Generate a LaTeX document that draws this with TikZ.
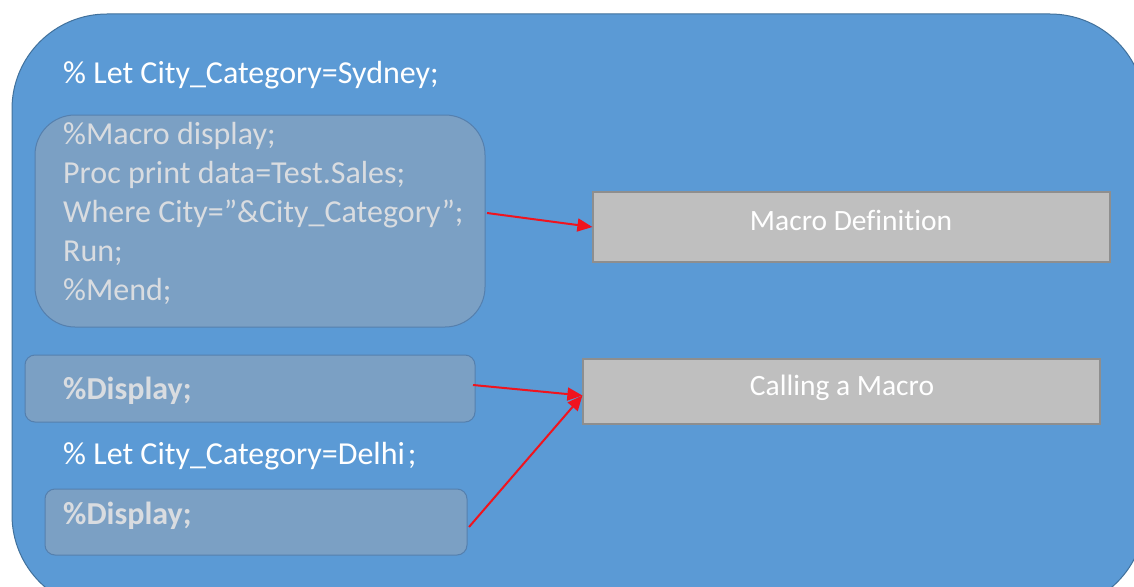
\documentclass[tikz,border=0pt]{standalone}
\usepackage{fontspec}
\setmainfont[Ligatures=CommonOff]{Carlito}
\usetikzlibrary{arrows.meta}
\definecolor{bgblue}{HTML}{5B9AD5}
\definecolor{bgedge}{HTML}{41719C}
\definecolor{codefill}{HTML}{7BA0C4}
\definecolor{codeedge}{HTML}{5580AE}
\definecolor{codetext}{HTML}{D9DCE0}
\definecolor{grayfill}{HTML}{BFBFBF}
\definecolor{grayedge}{HTML}{8E8E8E}
\definecolor{arrowred}{HTML}{F0141E}
\tikzset{
  codebox/.style={draw=codeedge, fill=codefill, line width=1pt},
  graybox/.style={draw=grayedge, fill=grayfill, line width=1.2pt},
  graytxt/.style={text=white, font=\fontsize{29.5}{34}\selectfont},
  redarrow/.style={draw=arrowred, line width=2pt, -{Triangle[length=15pt,width=13pt]}},
  codetxt/.style={text=codetext, font=\fontsize{32}{39}\selectfont, anchor=west, inner sep=0pt, align=left},
  boldtxt/.style={codetxt, font=\bfseries\fontsize{32}{39}\selectfont},
  whitetxt/.style={text=white, font=\fontsize{32}{39}\selectfont, anchor=west, inner sep=0pt}
}
\begin{document}
\begin{tikzpicture}[x=1pt,y=-1pt]
\useasboundingbox (0,0) rectangle (1134,586);
\begin{scope}
\clip (0,0) rectangle (1134,586);
\draw[fill=bgblue, draw=bgedge, line width=1pt, rounded corners=95pt] (12,14) rectangle (1145,610);
\end{scope}
% code boxes
\draw[codebox, rounded corners=40pt] (35,115) rectangle (485,327);
\coordinate (c1e) at (487,213);
\node[codetxt] (code) at (63,213) {%
\%Macro display;\\
Proc print data=Test.Sales;\\
Where City=”\&City\_Category”;\\
Run;\\
\%Mend;};
\node[whitetxt] (let1) at (63,75) {\% Let City\_Category=Sydney;};
\draw[codebox, rounded corners=10pt] (25,355) rectangle (475,422);
\node[boldtxt] (disp1) at (63,391) {\%Display;};
\node[whitetxt] (let2) at (63,456) {\% Let City\_Category=Delhi\kern3pt;};
\draw[codebox, rounded corners=10pt] (45,489) rectangle (467,555);
\node[boldtxt] (disp2) at (63,516) {\%Display;};
\coordinate (d1e) at (473,385);
\coordinate (d2e) at (469,527);
% gray boxes
\node[graybox, minimum width=517pt, minimum height=70pt] (def) at (851.5,227) {};
\node[graytxt] at (851,220) {Macro Definition};
\node[graybox, minimum width=517pt, minimum height=65pt] (call) at (841.5,391.5) {};
\node[graytxt] at (842,388) {Calling a Macro};
% arrows
\draw[redarrow] (c1e) -- (def.west);
\draw[redarrow] (d1e) -- ([yshift=-4pt]call.west);
\draw[redarrow] (d2e) -- ([yshift=-4pt]call.west);
\end{tikzpicture}
\end{document}
